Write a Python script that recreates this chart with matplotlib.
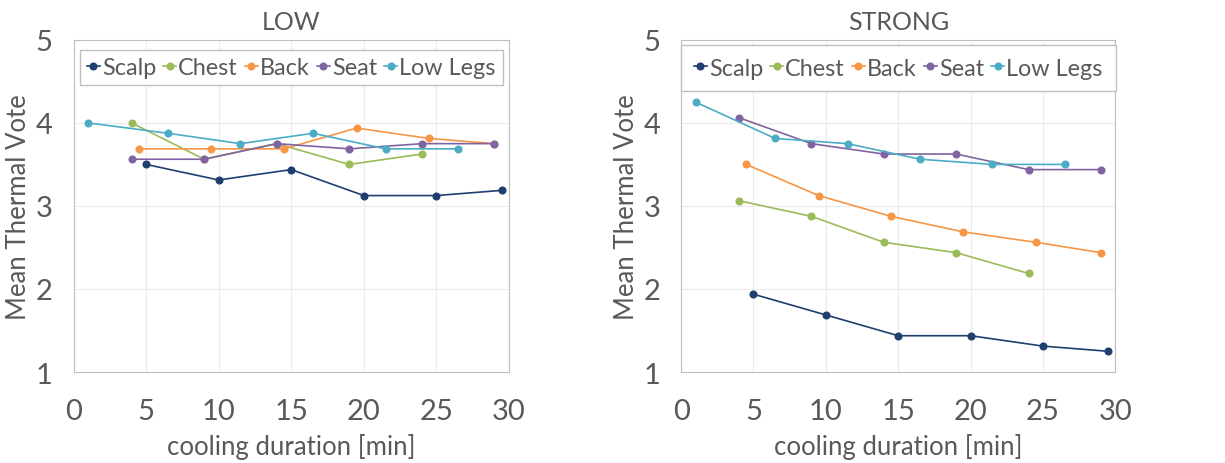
import matplotlib.pyplot as plt

plt.rcParams['font.family'] = ['Lato', 'DejaVu Sans']

names = ["Scalp", "Chest", "Back", "Seat", "Low Legs"]
colors = ["#1f3f6e", "#9bbb59", "#f79646", "#8064a2", "#4bacc6"]

# LOW cooling
low_x = {
    "Scalp": [5, 10, 15, 20, 25, 29.5],
    "Chest": [4, 9, 14, 19, 24],
    "Back": [4.5, 9.5, 14.5, 19.5, 24.5, 29],
    "Seat": [4, 9, 14, 19, 24, 29],
    "Low Legs": [1, 6.5, 11.5, 16.5, 21.5, 26.5],
}
low_y = {
    "Scalp": [3.5, 3.3125, 3.4375, 3.125, 3.125, 3.1875],
    "Chest": [4.0, 3.5625, 3.75, 3.5, 3.625],
    "Back": [3.6875, 3.6875, 3.6875, 3.9375, 3.8125, 3.75],
    "Seat": [3.5625, 3.5625, 3.75, 3.6875, 3.75, 3.75],
    "Low Legs": [4.0, 3.875, 3.75, 3.875, 3.6875, 3.6875],
}

# STRONG cooling
strong_x = {
    "Scalp": [5, 10, 15, 20, 25, 29.5],
    "Chest": [4, 9, 14, 19, 24],
    "Back": [4.5, 9.5, 14.5, 19.5, 24.5, 29],
    "Seat": [4, 9, 14, 19, 24, 29],
    "Low Legs": [1, 6.5, 11.5, 16.5, 21.5, 26.5],
}
strong_y = {
    "Scalp": [1.9375, 1.6875, 1.4375, 1.4375, 1.3125, 1.25],
    "Chest": [3.0625, 2.875, 2.5625, 2.4375, 2.1875],
    "Back": [3.5, 3.125, 2.875, 2.6875, 2.5625, 2.4375],
    "Seat": [4.0625, 3.75, 3.625, 3.625, 3.4375, 3.4375],
    "Low Legs": [4.25, 3.8125, 3.75, 3.5625, 3.5, 3.5],
}

gray = "#595959"
fig = plt.figure(figsize=(12.25, 4.64), dpi=100)
ax1 = fig.add_axes([0.060, 0.196, 0.3555, 0.716])
ax2 = fig.add_axes([0.556, 0.196, 0.3545, 0.716])

for ax, title, xs, ys, anchor, bpad in [(ax1, "LOW", low_x, low_y, 0.968, 0.3),
                                        (ax2, "STRONG", strong_x, strong_y, 0.985, 0.55)]:
    for n, c in zip(names, colors):
        ax.plot(xs[n], ys[n], color=c, marker="o", markersize=4.8, linewidth=1.2, label=n)
    ax.set_xlim(0, 30)
    ax.set_ylim(1, 5)
    ax.set_xticks(range(0, 31, 5))
    ax.set_yticks(range(1, 6))
    ax.grid(color="#ebebeb", linewidth=0.8)
    ax.set_axisbelow(True)
    for s in ax.spines.values():
        s.set_color("#bfbfbf")
    ax.tick_params(length=0, labelsize=21, labelcolor=gray)
    ax.tick_params(axis="x", pad=19)
    ax.tick_params(axis="y", pad=15)
    ax.set_title(title, fontsize=18, color=gray, pad=8)
    ax.set_xlabel("cooling duration [min]", fontsize=18.5, color=gray, labelpad=6)
    ax.set_ylabel("Mean Thermal Vote", fontsize=18.5, color=gray, labelpad=3)
    ax.legend(loc="upper center", bbox_to_anchor=(0.5, anchor), ncol=5, fontsize=16.8,
              frameon=True, fancybox=False, edgecolor="#bfbfbf", framealpha=1,
              handlelength=0.55, handletextpad=0.1, columnspacing=0.3,
              borderpad=bpad, borderaxespad=0, labelcolor=gray)

fig.savefig("out.png", dpi=100)
